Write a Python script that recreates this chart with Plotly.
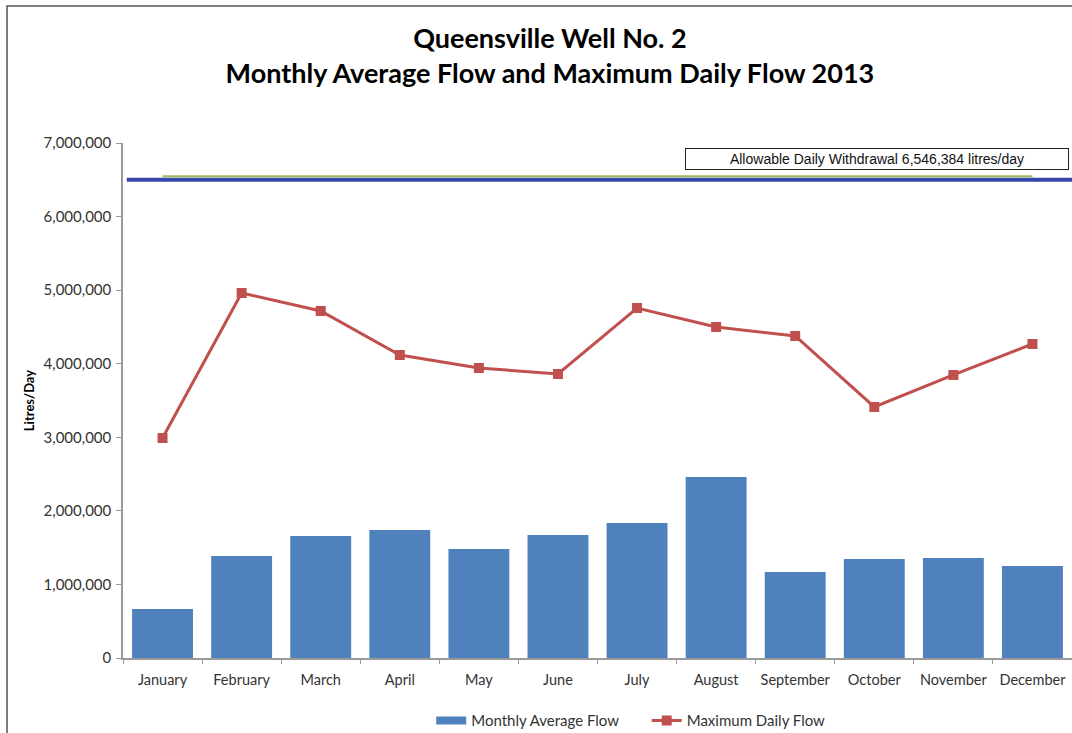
import plotly.graph_objects as go

months = ["January", "February", "March", "April", "May", "June",
          "July", "August", "September", "October", "November", "December"]
monthly_avg = [666000, 1386000, 1658000, 1740000, 1482000, 1672000,
               1835000, 2460000, 1169000, 1346000, 1359000, 1250000]
max_daily = [2990000, 4961000, 4717000, 4118000, 3942000, 3860000,
             4757000, 4499000, 4377000, 3412000, 3847000, 4268000]
allowable = 6546384
ref_line = 6500000
y_ticks = [0, 1000000, 2000000, 3000000, 4000000, 5000000, 6000000, 7000000]

font_main = "Lato, Calibri, Carlito, sans-serif"
bar_color = "#4F81BD"
line_color = "#C0504D"
nb = "\u00a0"

fig = go.Figure()
fig.add_trace(go.Bar(
    x=months, y=monthly_avg, name="Monthly Average Flow",
    marker=dict(color=bar_color, line=dict(width=0)), showlegend=False,
))
# legend proxy for the bars (wide swatch like the original)
fig.add_trace(go.Scatter(
    x=[None], y=[None], mode="lines", name="Monthly Average Flow" + nb * 6,
    line=dict(color=bar_color, width=8),
))
fig.add_trace(go.Scatter(
    x=months, y=[allowable] * len(months), mode="lines",
    line=dict(color="#9BBB59", width=2), showlegend=False, hoverinfo="skip",
))
fig.add_trace(go.Scatter(
    x=months, y=max_daily, name="Maximum Daily Flow", mode="lines+markers",
    line=dict(color=line_color, width=3),
    marker=dict(symbol="square", size=10, color=line_color),
))

fig.add_shape(type="line", xref="paper", yref="y", x0=0.004, x1=1.0,
              y0=ref_line, y1=ref_line, line=dict(color="#3545A8", width=4))

# outer frame
fig.add_shape(type="rect", xref="paper", yref="paper",
              x0=-0.1222, x1=1.2, y0=-0.4, y1=1.266,
              line=dict(color="#555555", width=1.5), layer="below")

fig.add_annotation(
    xref="paper", yref="paper", x=0.7945, y=0.969, xanchor="center", yanchor="middle",
    text=f"Allowable Daily Withdrawal {allowable:,} litres/day",
    showarrow=False, font=dict(family="Liberation Sans, Arial", size=14, color="#111111"),
    bordercolor="#222222", borderwidth=1, bgcolor="white",
    width=378, height=16, borderpad=2, align="center",
)

fig.update_layout(
    width=1072, height=733,
    margin=dict(l=123, r=0, t=143, b=75, autoexpand=False),
    paper_bgcolor="white", plot_bgcolor="white",
    title=dict(
        text="<b>Queensville Well No. 2<br>Monthly Average Flow and Maximum Daily Flow 2013</b>",
        x=0.513, xanchor="center", y=0.934, yanchor="top",
        font=dict(family=font_main, size=27, color="#000000"),
    ),
    font=dict(family=font_main, size=14, color="#333333"),
    bargap=0.23,
    showlegend=True,
    legend=dict(orientation="h", x=0.535, xanchor="center", y=-0.122, yanchor="middle",
                font=dict(family=font_main, size=15, color="#333333"),
                traceorder="normal"),
    xaxis=dict(
        type="category", range=[-0.5, 11.5], autorange=False,
        showgrid=False, showline=True, linecolor="#9a9a9a", linewidth=1.5,
        ticks="outside", tickson="boundaries", ticklen=4, tickcolor="#9a9a9a",
        ticklabelstandoff=8, tickangle=0, automargin=False,
        tickfont=dict(family=font_main, size=14.5, color="#333333"),
    ),
    yaxis=dict(
        range=[0, 7000000], tickvals=y_ticks, tickformat=",d",
        showgrid=False, showline=True, linecolor="#9a9a9a", linewidth=1.5,
        ticks="outside", ticklen=5, tickcolor="#9a9a9a", zeroline=False,
        ticklabelstandoff=2, automargin=False,
        tickfont=dict(family=font_main, size=15, color="#333333"),
        title=dict(text="<b>Litres/Day</b>", standoff=6,
                   font=dict(family=font_main, size=13, color="#000000")),
    ),
)

fig.write_html("out.html", config={"displayModeBar": False},
               post_script="document.body.style.margin='0';")
